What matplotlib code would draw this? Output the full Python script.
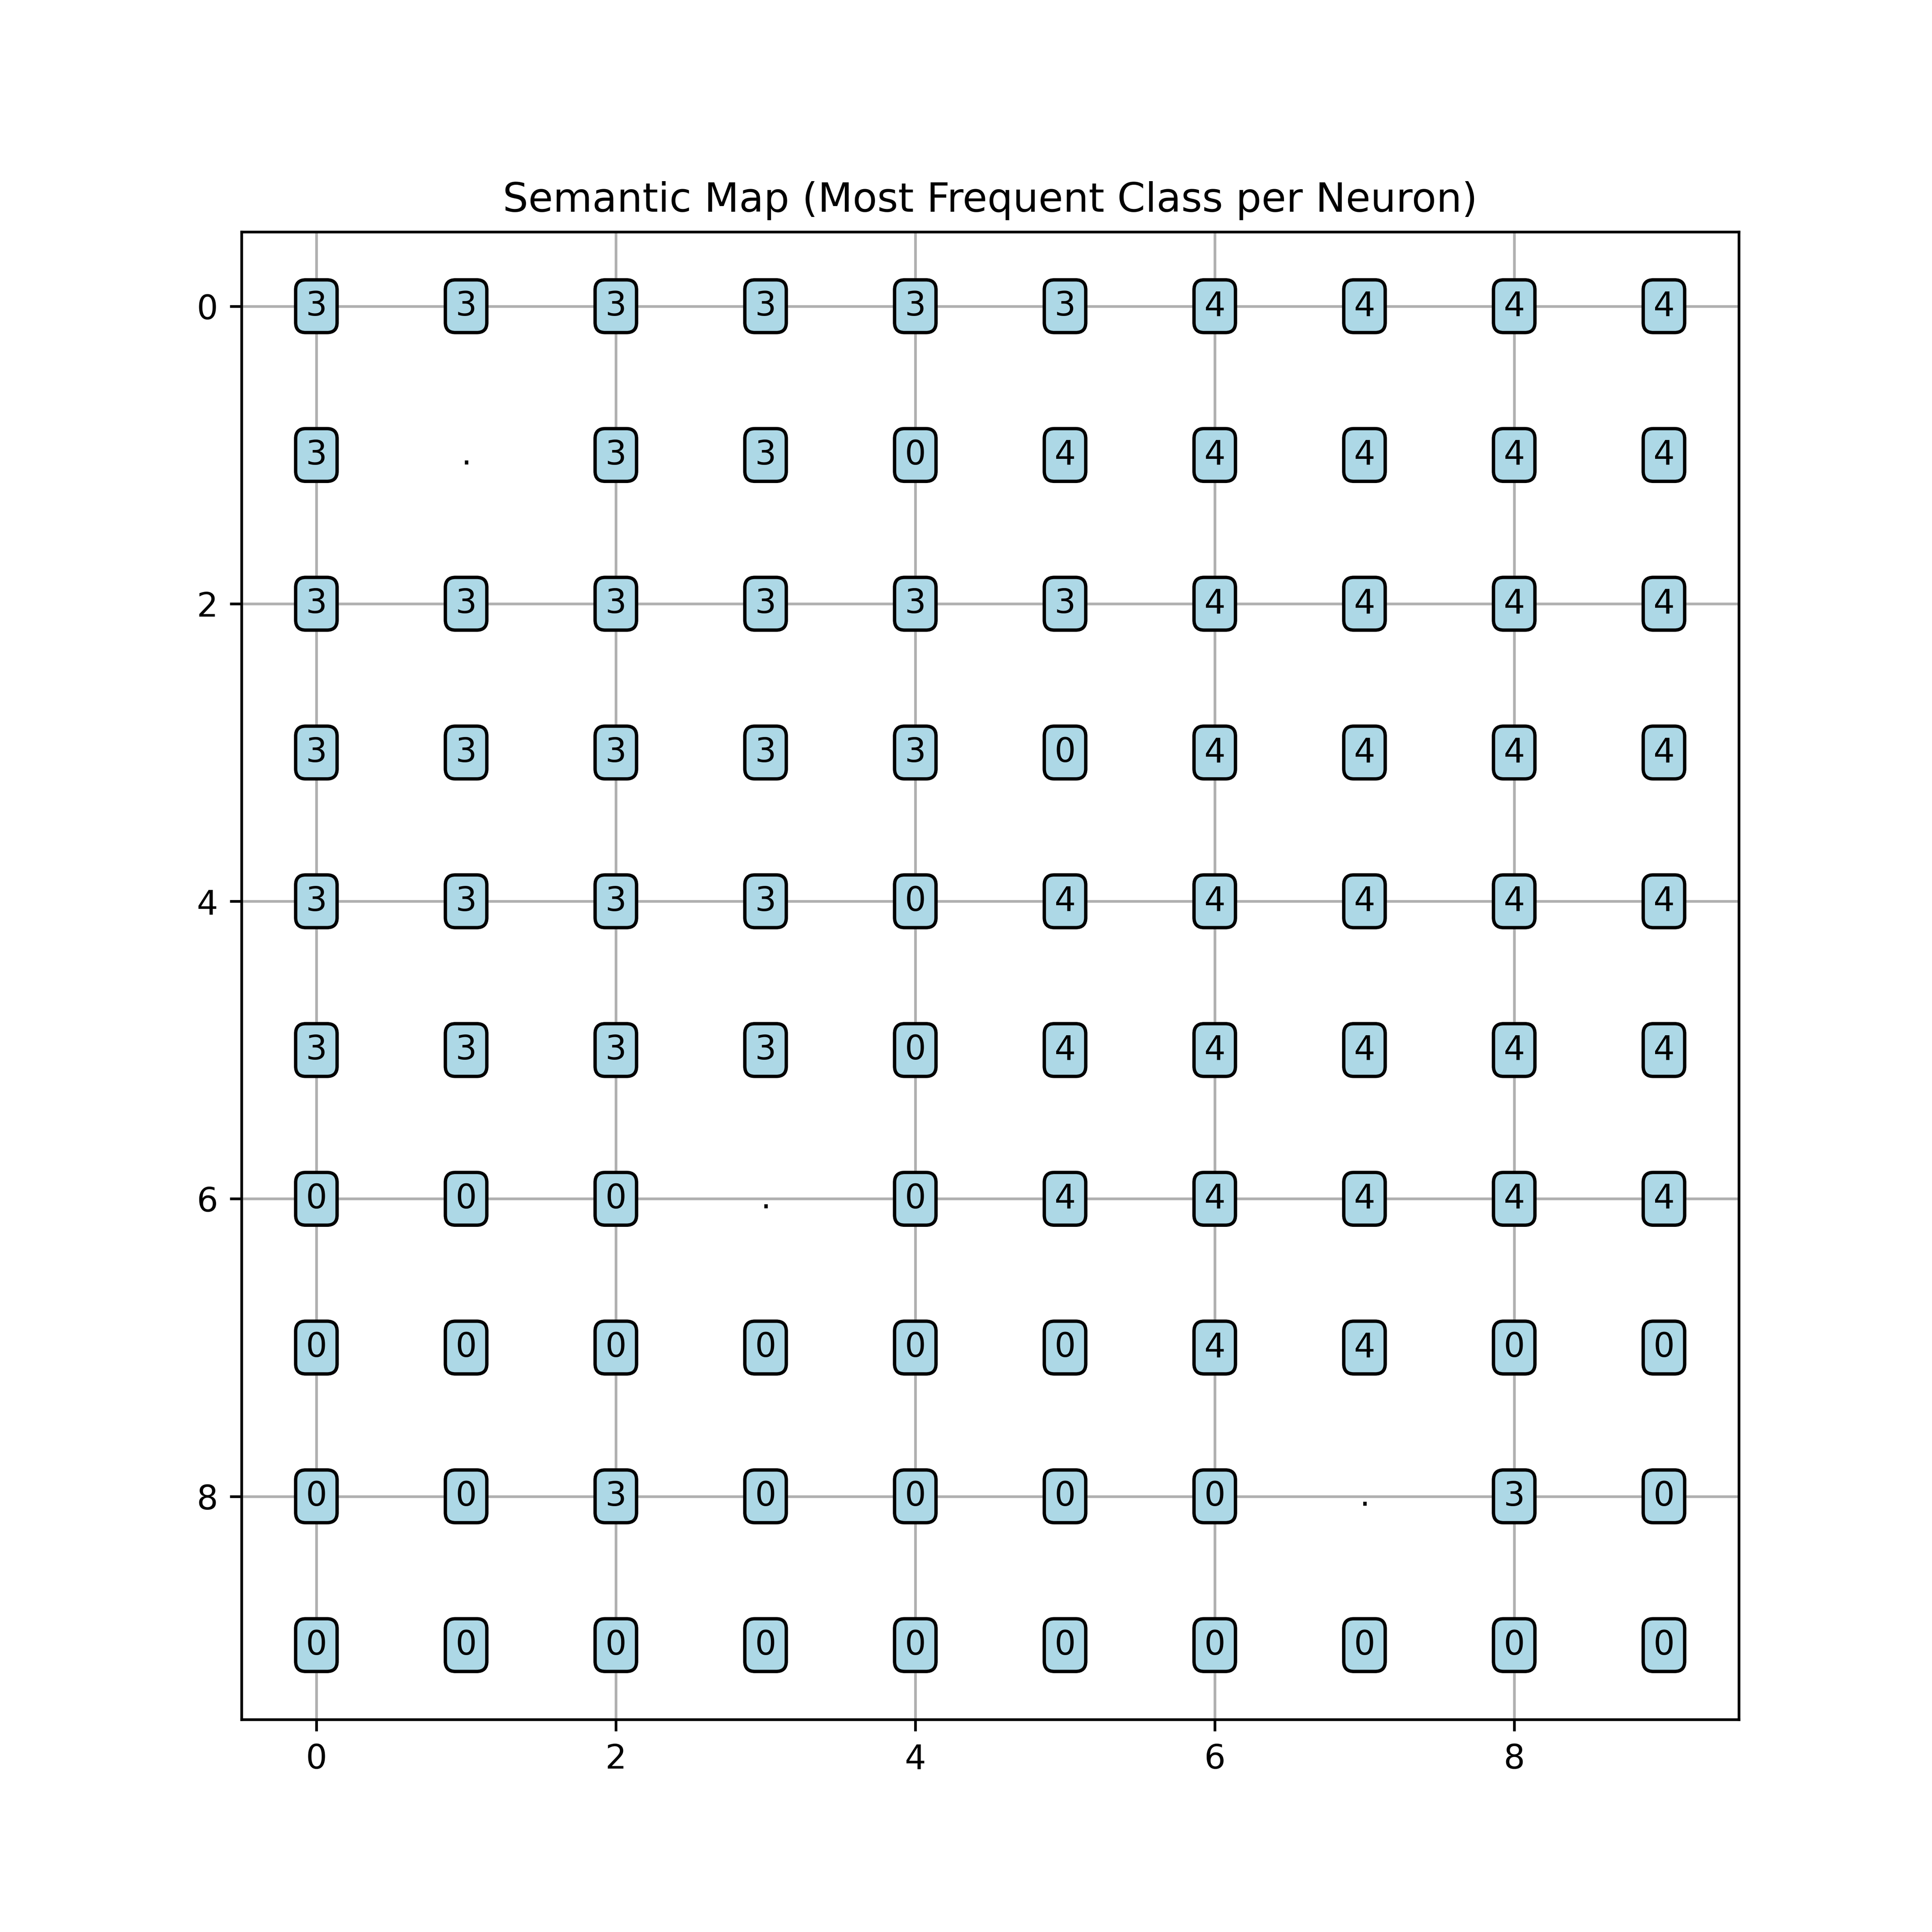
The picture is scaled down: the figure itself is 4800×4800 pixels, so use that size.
import matplotlib
matplotlib.use("Agg")
import matplotlib.pyplot as plt

# Most frequent class per neuron; None = neuron with no samples
rows = [
    [3, 3, 3, 3, 3, 3, 4, 4, 4, 4],
    [3, None, 3, 3, 0, 4, 4, 4, 4, 4],
    [3, 3, 3, 3, 3, 3, 4, 4, 4, 4],
    [3, 3, 3, 3, 3, 0, 4, 4, 4, 4],
    [3, 3, 3, 3, 0, 4, 4, 4, 4, 4],
    [3, 3, 3, 3, 0, 4, 4, 4, 4, 4],
    [0, 0, 0, None, 0, 4, 4, 4, 4, 4],
    [0, 0, 0, 0, 0, 0, 4, 4, 0, 0],
    [0, 0, 3, 0, 0, 0, 0, None, 3, 0],
    [0, 0, 0, 0, 0, 0, 0, 0, 0, 0],
]
title = "Semantic Map (Most Frequent Class per Neuron)"

fig = plt.figure(figsize=(8, 8), dpi=600)
ax = fig.add_subplot(111)
n = len(rows)
for i, row in enumerate(rows):
    for j, v in enumerate(row):
        if v is None:
            ax.text(j, i, ".", ha="center", va="center", fontsize=10)
        else:
            ax.text(j, i, str(v), ha="center", va="center", fontsize=10,
                    bbox=dict(facecolor="lightblue", edgecolor="black",
                              boxstyle="round"))
ax.set_xlim(-0.5, n - 0.5)
ax.set_ylim(n - 0.5, -0.5)
ax.set_title(title)
ax.grid(True)
fig.savefig("out.png", dpi=600)
